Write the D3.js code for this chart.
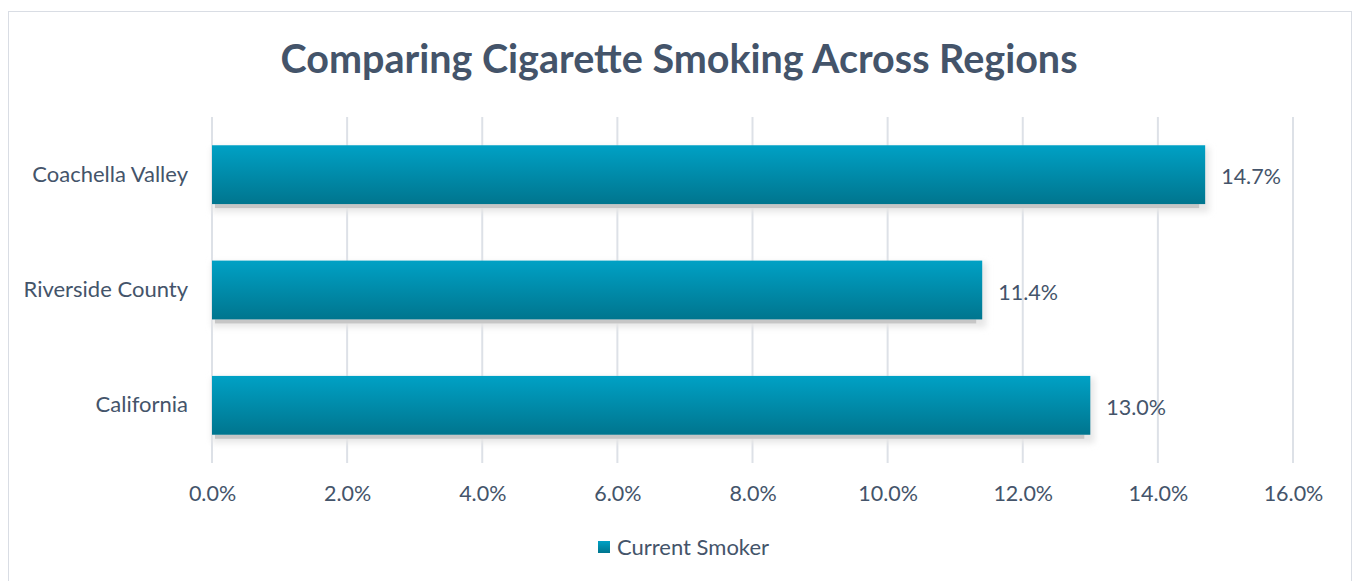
<!DOCTYPE html>
<html>
<head>
<meta charset="utf-8">
<script src="https://cdn.jsdelivr.net/npm/d3@7"></script>
<style>
  body { margin: 0; background: #fff; }
  text { font-family: Lato, "Open Sans", sans-serif; fill: #44546a; }
</style>
</head>
<body>
<svg></svg>
<script>
// Data
const regions = ["Coachella Valley", "Riverside County", "California"];
const smokers = [14.7, 11.4, 13.0];
const xTicks = [0, 2, 4, 6, 8, 10, 12, 14, 16];
const seriesName = "Current Smoker";
const title = "Comparing Cigarette Smoking Across Regions";

const W = 1353, H = 581;
const margin = { top: 117, right: 60, bottom: 118, left: 212 },
   width = 1293 - margin.left,
   height = 463 - margin.top;

const svg = d3.select("svg")
   .attr("width", W)
   .attr("height", H);

// chart frame
svg.append("rect")
   .attr("x", 8.5).attr("y", 11.5)
   .attr("width", 1343).attr("height", 600)
   .attr("fill", "none")
   .attr("stroke", "#d9dde4");

// gradient for bars
const defs = svg.append("defs");
const grad = defs.append("linearGradient")
   .attr("id", "barGrad")
   .attr("x1", 0).attr("y1", 0).attr("x2", 0).attr("y2", 1);
grad.append("stop").attr("offset", "0%").attr("stop-color", "#00a1c5");
grad.append("stop").attr("offset", "100%").attr("stop-color", "#00758e");

const blur = defs.append("filter").attr("id", "soft")
   .attr("x", "-5%").attr("y", "-50%").attr("width", "110%").attr("height", "200%");
blur.append("feGaussianBlur").attr("stdDeviation", 3);

svg.append("text")
   .attr("x", 679).attr("y", 73)
   .attr("text-anchor", "middle")
   .style("font-size", "39.5px")
   .style("font-weight", "bold")
   .text(title);

const g = svg.append("g")
   .attr("transform", `translate(${margin.left},${margin.top})`);

const x = d3.scaleLinear()
   .domain([0, 16])
   .range([0, width]);

const y = d3.scaleBand()
   .domain(regions)
   .range([0, height])
   .paddingInner(0.49)
   .paddingOuter(0.245);

// gridlines
g.selectAll(".grid")
   .data(xTicks)
   .enter()
   .append("line")
   .attr("x1", d => x(d)).attr("x2", d => x(d))
   .attr("y1", 0).attr("y2", height)
   .attr("stroke", "#dde1e7")
   .attr("stroke-width", 2);

// x axis labels
g.append("g")
   .attr("transform", `translate(0,${height})`)
   .call(d3.axisBottom(x).tickValues(xTicks).tickSize(0).tickPadding(23)
      .tickFormat(d => d.toFixed(1) + "%"))
   .selectAll("text")
   .style("font-size", "21.5px")
   .style("fill", "#44546a");

// y axis labels
g.append("g")
   .call(d3.axisLeft(y).tickSize(0).tickPadding(24))
   .selectAll("text")
   .style("font-size", "22px")
   .style("fill", "#44546a");

g.selectAll(".domain").remove();

const rows = regions.map((r, i) => ({ region: r, value: smokers[i] }));

// soft glow behind bars
g.selectAll(".glow")
   .data(rows)
   .enter()
   .append("rect")
   .attr("x", 0)
   .attr("y", d => y(d.region) + 2)
   .attr("width", d => x(d.value) + 4)
   .attr("height", y.bandwidth() + 6)
   .attr("fill", "#e6e6e6")
   .attr("filter", "url(#soft)");

// shadow strip
g.selectAll(".shadow")
   .data(rows)
   .enter()
   .append("rect")
   .attr("x", 3)
   .attr("y", d => y(d.region) + y.bandwidth())
   .attr("width", d => x(d.value) - 9)
   .attr("height", 4)
   .attr("fill", "#c6c6c6");

// bars
g.selectAll(".bar")
   .data(rows)
   .enter()
   .append("rect")
   .attr("x", 0)
   .attr("y", d => y(d.region))
   .attr("width", d => x(d.value))
   .attr("height", y.bandwidth())
   .attr("fill", "url(#barGrad)");

// value labels
g.selectAll(".val")
   .data(rows)
   .enter()
   .append("text")
   .attr("x", d => x(d.value) + 16)
   .attr("y", d => y(d.region) + y.bandwidth() / 2 + 2)
   .attr("dy", "0.35em")
   .style("font-size", "21.5px")
   .text(d => d.value.toFixed(1) + "%");

// legend
const legend = svg.append("g").attr("transform", "translate(598,541)");
legend.append("rect")
   .attr("width", 12).attr("height", 12)
   .attr("fill", "url(#barGrad)");
legend.append("text")
   .attr("x", 19).attr("y", 6)
   .attr("dy", "0.35em")
   .style("font-size", "22px")
   .text(seriesName);
</script>
</body>
</html>
